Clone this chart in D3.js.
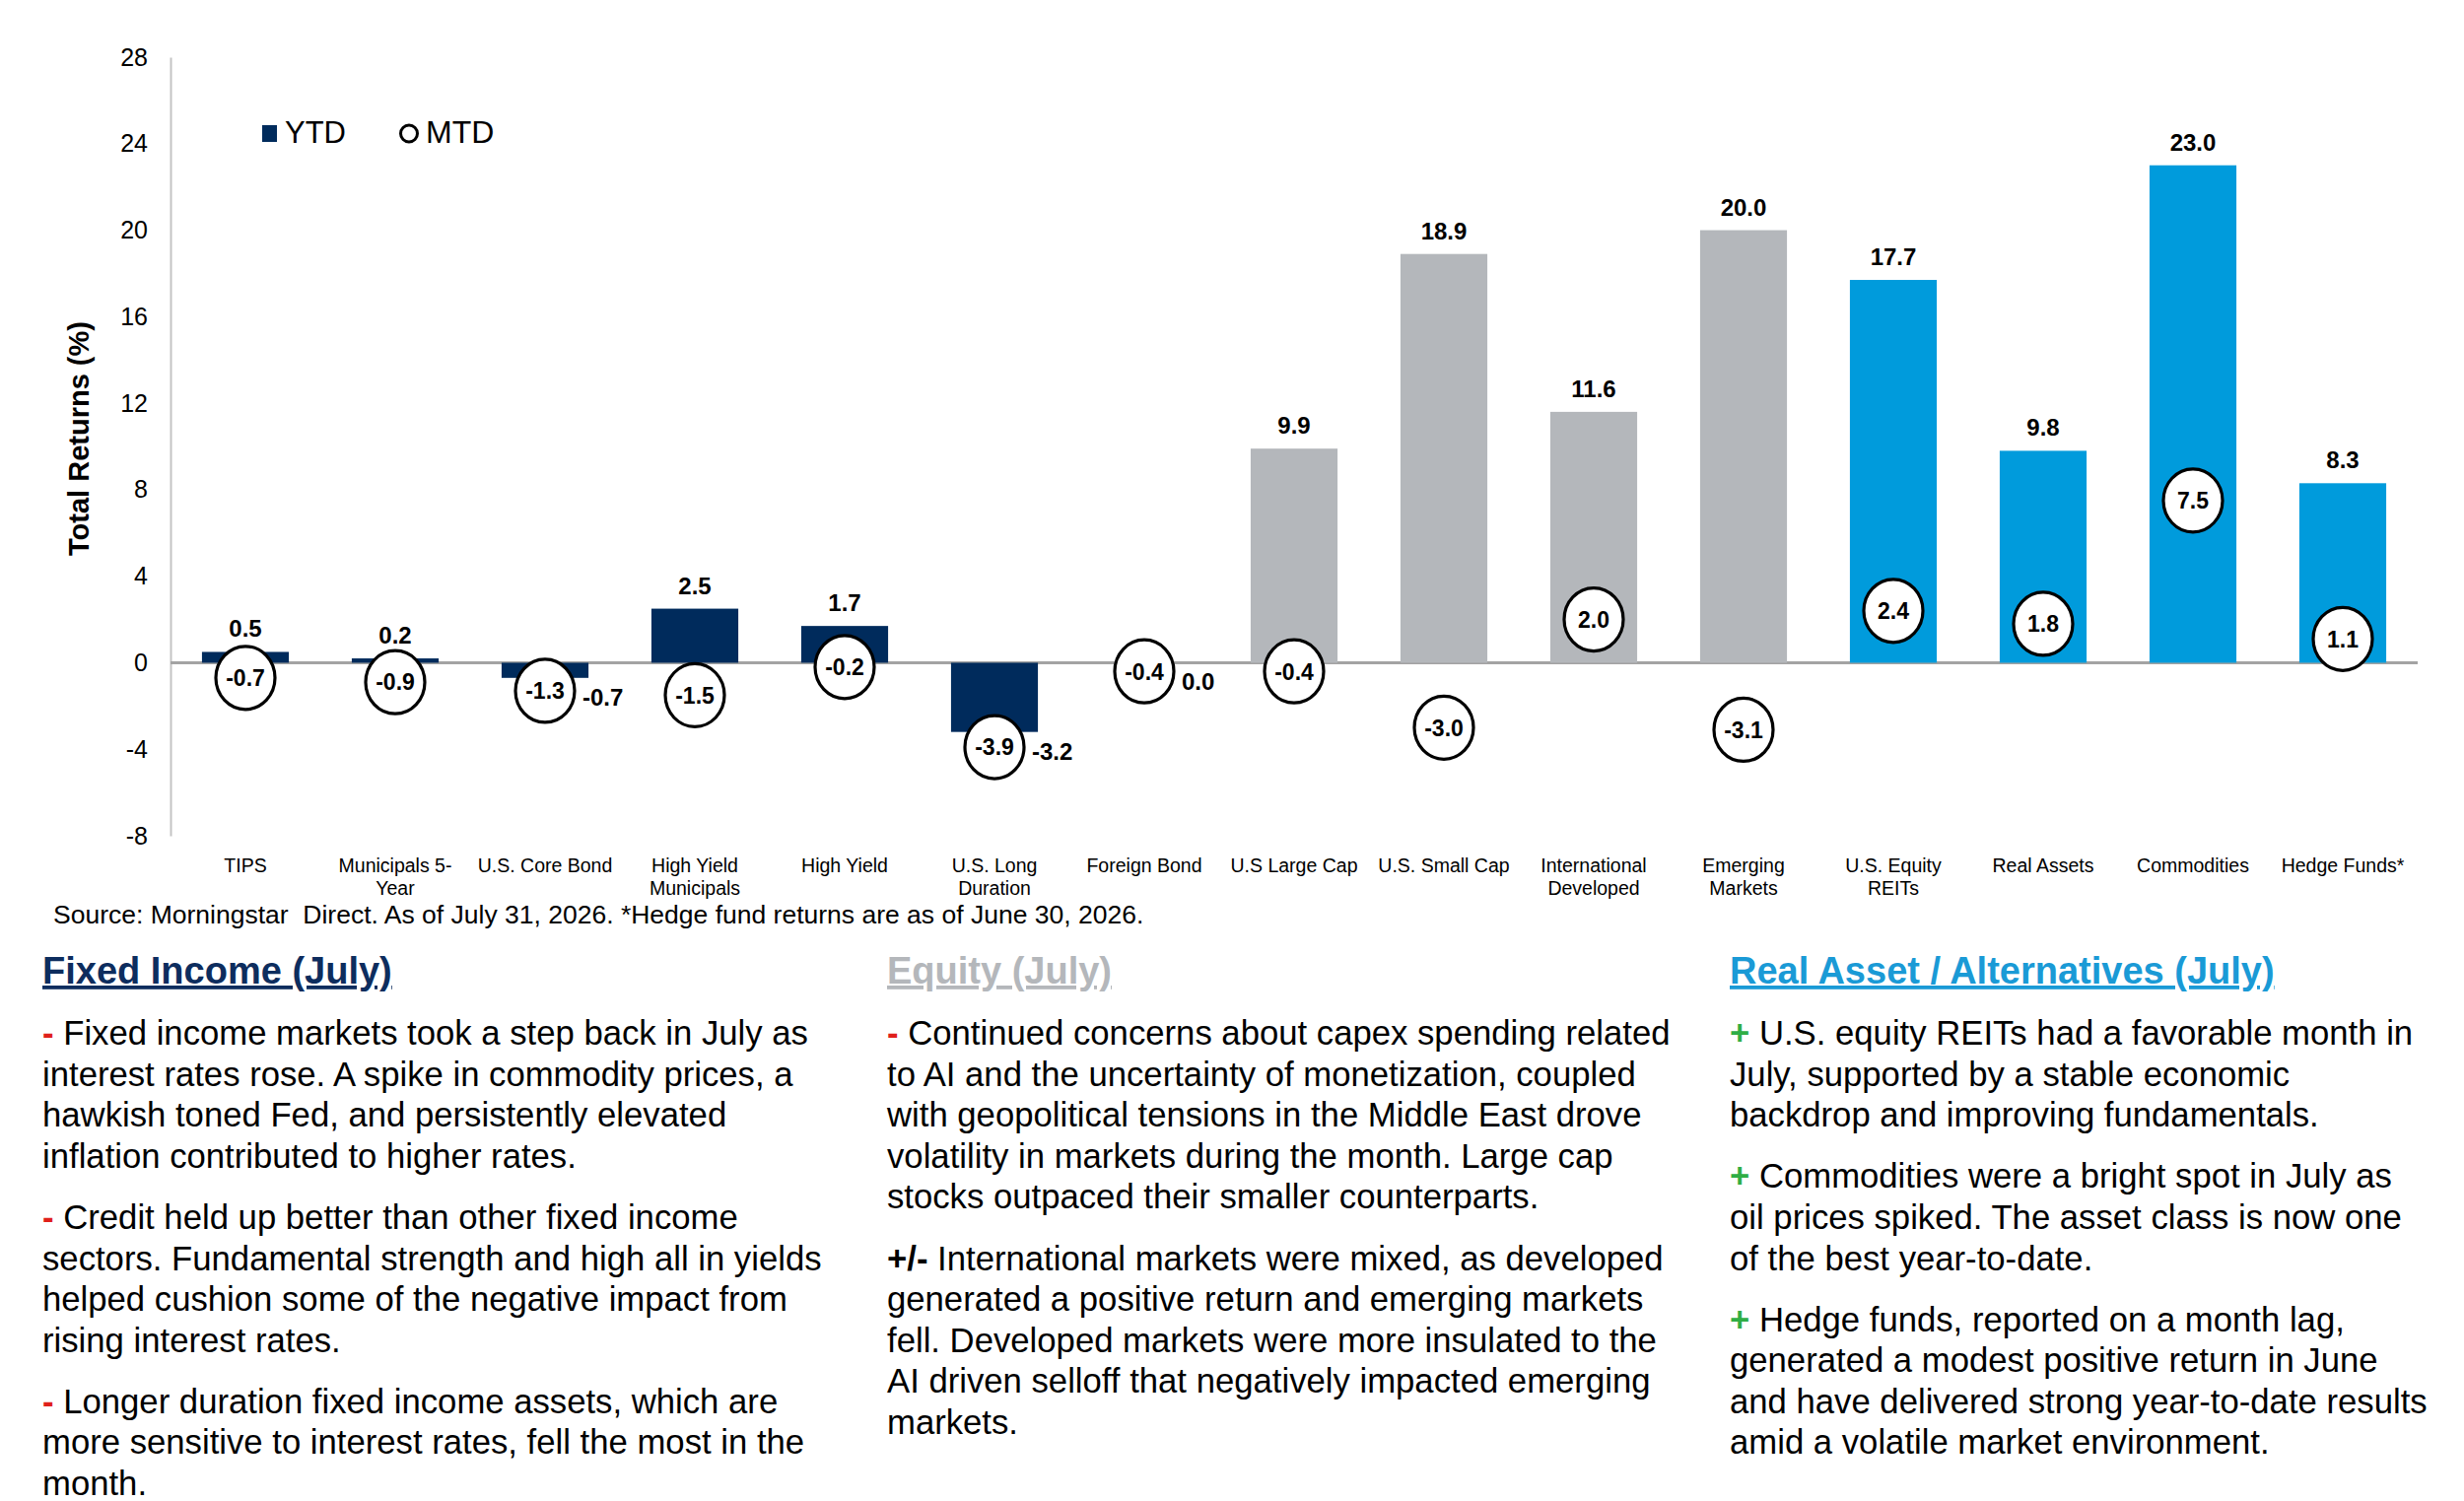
<!DOCTYPE html>
<html>
<head>
<meta charset="utf-8">
<script src="https://cdn.jsdelivr.net/npm/d3@7"></script>
<style>
  html, body { margin: 0; padding: 0; background: #ffffff; }
  svg { display: block; font-family: "Liberation Sans", Arial, sans-serif; }
</style>
</head>
<body>
<svg id="chart" width="2500" height="1523"></svg>
<script>
// chart data
var categories = ["TIPS", "Municipals 5-Year", "U.S. Core Bond", "High Yield Municipals", "High Yield",
    "U.S. Long Duration", "Foreign Bond", "U.S Large Cap", "U.S. Small Cap", "International Developed",
    "Emerging Markets", "U.S. Equity REITs", "Real Assets", "Commodities", "Hedge Funds*"];
var tickLabels = [["TIPS"], ["Municipals 5-", "Year"], ["U.S. Core Bond"], ["High Yield", "Municipals"],
    ["High Yield"], ["U.S. Long", "Duration"], ["Foreign Bond"], ["U.S Large Cap"], ["U.S. Small Cap"],
    ["International", "Developed"], ["Emerging", "Markets"], ["U.S. Equity", "REITs"], ["Real Assets"],
    ["Commodities"], ["Hedge Funds*"]];
var assetClass = ["fixed", "fixed", "fixed", "fixed", "fixed", "fixed", "fixed",
    "equity", "equity", "equity", "equity", "real", "real", "real", "real"];
var ytd = [0.5, 0.2, -0.7, 2.5, 1.7, -3.2, 0.0, 9.9, 18.9, 11.6, 20.0, 17.7, 9.8, 23.0, 8.3];
var mtd = [-0.7, -0.9, -1.3, -1.5, -0.2, -3.9, -0.4, -0.4, -3.0, 2.0, -3.1, 2.4, 1.8, 7.5, 1.1];
var yTicks = [-8, -4, 0, 4, 8, 12, 16, 20, 24, 28];

var sourceNote = "Source: Morningstar  Direct. As of July 31, 2026. *Hedge fund returns are as of June 30, 2026.";

// commentary columns
var columnTitles = ["Fixed Income (July)", "Equity (July)", "Real Asset / Alternatives (July)"];
var columnClass = ["fixed", "equity", "real"];
var fixedIncomeNotes = [
    {sign: "-", lines: ["Fixed income markets took a step back in July as", "interest rates rose. A spike in commodity prices, a",
        "hawkish toned Fed, and persistently elevated", "inflation contributed to higher rates."]},
    {sign: "-", lines: ["Credit held up better than other fixed income", "sectors. Fundamental strength and high all in yields",
        "helped cushion some of the negative impact from", "rising interest rates."]},
    {sign: "-", lines: ["Longer duration fixed income assets, which are", "more sensitive to interest rates, fell the most in the",
        "month."]}
];
var equityNotes = [
    {sign: "-", lines: ["Continued concerns about capex spending related", "to AI and the uncertainty of monetization, coupled",
        "with geopolitical tensions in the Middle East drove", "volatility in markets during the month. Large cap",
        "stocks outpaced their smaller counterparts."]},
    {sign: "+/-", lines: ["International markets were mixed, as developed", "generated a positive return and emerging markets",
        "fell. Developed markets were more insulated to the", "AI driven selloff that negatively impacted emerging",
        "markets."]}
];
var realAssetNotes = [
    {sign: "+", lines: ["U.S. equity REITs had a favorable month in", "July, supported by a stable economic",
        "backdrop and improving fundamentals."]},
    {sign: "+", lines: ["Commodities were a bright spot in July as", "oil prices spiked. The asset class is now one",
        "of the best year-to-date."]},
    {sign: "+", lines: ["Hedge funds, reported on a month lag,", "generated a modest positive return in June",
        "and have delivered strong year-to-date results", "amid a volatile market environment."]}
];

var classColor = {fixed: "#002b5c", equity: "#b4b7bb", real: "#009bdc"};
var titleColor = {fixed: "#0d2d5e", equity: "#b4b7bb", real: "#1a9ad6"};
var signColor = {"-": "#e0201b", "+": "#2fae45", "+/-": "#000000"};

var svg = d3.select("#chart");

var x = d3.scaleBand()
    .domain(categories)
    .range([173, 2453])
    .paddingInner(0.42)
    .paddingOuter(0.21);

var y = d3.scaleLinear()
    .domain([-8, 28])
    .range([848, 58]);

var rows = categories.map(function (c, i) {
    return {name: c, label: tickLabels[i], cls: assetClass[i], ytd: ytd[i], mtd: mtd[i]};
});

/**
 * y axis, zero line and axis title
 */
function drawAxes() {
    var axis = svg.append("g")
        .attr("class", "y-axis")
        .attr("transform", "translate(173,0)")
        .call(d3.axisLeft(y).tickValues(yTicks).tickSize(0).tickPadding(23));

    axis.select(".domain")
        .attr("stroke", "#c4c4c4")
        .attr("stroke-width", 2);

    axis.selectAll("text")
        .style("font-size", "25px")
        .style("font-family", "Liberation Sans, Arial, sans-serif")
        .attr("fill", "#000")
        .text(function (d) { return String(d); });

    svg.append("line")
        .attr("x1", x.range()[0])
        .attr("x2", x.range()[1])
        .attr("y1", y(0))
        .attr("y2", y(0))
        .attr("stroke", "#a3a3a3")
        .attr("stroke-width", 3);

    svg.append("text")
        .attr("transform", "translate(90,445) rotate(-90)")
        .attr("text-anchor", "middle")
        .style("font-size", "29px")
        .style("font-weight", "bold")
        .text("Total Returns (%)");

    // category labels under the plot
    var ticks = svg.append("g").attr("class", "x-labels")
        .selectAll("text")
        .data(rows)
        .enter()
        .append("text")
        .attr("text-anchor", "middle")
        .style("font-size", "19.5px");

    ticks.selectAll("tspan")
        .data(function (d) { return d.label.map(function (l) { return {l: l, x: x(d.name) + x.bandwidth() / 2}; }); })
        .enter()
        .append("tspan")
        .attr("x", function (t) { return t.x; })
        .attr("y", function (t, i) { return 885 + i * 23; })
        .text(function (t) { return t.l; });
}

/**
 * YTD bars and their labels
 */
function drawBars() {
    var g = svg.append("g").attr("class", "bars");

    g.selectAll("rect")
        .data(rows)
        .enter()
        .append("rect")
        .attr("x", function (d) { return x(d.name); })
        .attr("width", x.bandwidth())
        .attr("y", function (d) { return y(Math.max(0, d.ytd)); })
        .attr("height", function (d) { return Math.abs(y(d.ytd) - y(0)); })
        .attr("fill", function (d) { return classColor[d.cls]; });

    // positive labels sit above the bar, others go to the lower right
    g.selectAll("text")
        .data(rows)
        .enter()
        .append("text")
        .attr("x", function (d) {
            var c = x(d.name) + x.bandwidth() / 2;
            return d.ytd > 0 ? c : c + 38;
        })
        .attr("y", function (d) {
            return d.ytd > 0 ? y(d.ytd) - 15 : y(d.ytd) + 28;
        })
        .attr("text-anchor", function (d) { return d.ytd > 0 ? "middle" : "start"; })
        .style("font-size", "24px")
        .style("font-weight", "bold")
        .text(function (d) { return d.ytd.toFixed(1); });
}

/**
 * MTD markers: white circles with the value inside
 */
function drawMarkers() {
    var g = svg.append("g").attr("class", "markers")
        .selectAll("g")
        .data(rows)
        .enter()
        .append("g")
        .attr("transform", function (d) {
            return "translate(" + (x(d.name) + x.bandwidth() / 2) + "," + y(d.mtd) + ")";
        });

    g.append("ellipse")
        .attr("rx", 30)
        .attr("ry", 32)
        .attr("fill", "#fff")
        .attr("stroke", "#000")
        .attr("stroke-width", 3.2);

    g.append("text")
        .attr("text-anchor", "middle")
        .attr("dy", "0.36em")
        .style("font-size", "23px")
        .style("font-weight", "bold")
        .text(function (d) { return d.mtd.toFixed(1); });
}

function drawLegend() {
    var lg = svg.append("g").attr("class", "legend");
    lg.append("rect")
        .attr("x", 266).attr("y", 127)
        .attr("width", 15).attr("height", 17)
        .attr("fill", classColor.fixed);
    lg.append("text")
        .attr("x", 289).attr("y", 145)
        .style("font-size", "31px")
        .text("YTD");
    lg.append("ellipse")
        .attr("cx", 415).attr("cy", 135.5)
        .attr("rx", 8.5).attr("ry", 8.5)
        .attr("fill", "none")
        .attr("stroke", "#000")
        .attr("stroke-width", 3);
    lg.append("text")
        .attr("x", 432).attr("y", 145)
        .style("font-size", "32px")
        .text("MTD");
}

function drawSource() {
    svg.append("text")
        .attr("x", 54)
        .attr("y", 937)
        .attr("xml:space", "preserve")
        .style("font-size", "26.5px")
        .text(sourceNote);
}

/**
 * One commentary column: underlined title and signed paragraphs
 */
function drawColumn(left, title, cls, notes) {
    var g = svg.append("g").attr("class", "column");

    g.append("text")
        .attr("x", left)
        .attr("y", 998)
        .attr("fill", titleColor[cls])
        .style("font-size", "38px")
        .style("font-weight", "bold")
        .style("text-decoration", "underline")
        .text(title);

    var lineH = 41.6, gap = 20.5, base = 1060;
    notes.forEach(function (p) {
        p.lines.forEach(function (line, i) {
            var t = g.append("text")
                .attr("x", left)
                .attr("y", base + i * lineH)
                .style("font-size", "34.7px")
                .attr("xml:space", "preserve");
            if (i === 0) {
                t.append("tspan")
                    .attr("fill", signColor[p.sign])
                    .style("font-weight", "bold")
                    .text(p.sign);
                t.append("tspan").text(" " + line);
            } else {
                t.text(line);
            }
        });
        base += p.lines.length * lineH + gap;
    });
}

drawAxes();
drawBars();
drawMarkers();
drawLegend();
drawSource();
drawColumn(43, columnTitles[0], columnClass[0], fixedIncomeNotes);
drawColumn(900, columnTitles[1], columnClass[1], equityNotes);
drawColumn(1755, columnTitles[2], columnClass[2], realAssetNotes);
</script>
</body>
</html>
